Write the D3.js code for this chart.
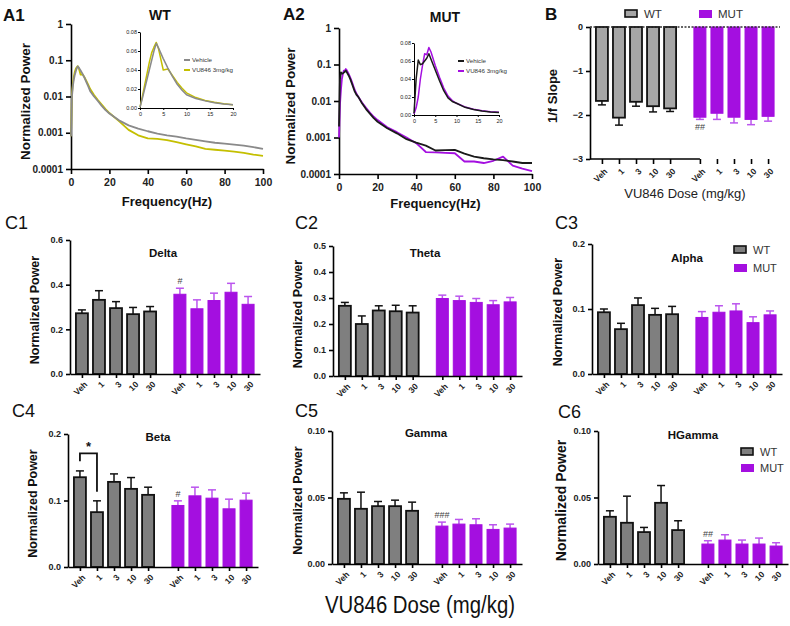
<!DOCTYPE html>
<html><head><meta charset="utf-8">
<script src="https://cdn.jsdelivr.net/npm/d3@7"></script>
<style>
body{margin:0;background:#fff}
svg{display:block}
text{font-family:"Liberation Sans",Arial,Helvetica,sans-serif}
</style>
</head><body>
<svg id="c" width="790" height="626"></svg>
<script>
// ---------------- DATA ----------------
const freqs = [0,0.5,1,1.5,2,2.5,3,3.5,4,5,6,7,8,9,10,12,14,16,18,20,25,30,35,40,45,50,55,60,65,70,75,80,85,90,95,100];
const wtVehicle = [0.0008,0.01,0.02,0.03,0.04,0.05,0.06,0.068,0.063,0.052,0.042,0.033,0.025,0.019,0.014,0.010,0.0075,0.0055,0.0042,0.0034,0.0022,0.0016,0.0013,0.0011,0.00095,0.00085,0.00078,0.0007,0.00064,0.00058,0.00053,0.0005,0.00047,0.00044,0.0004,0.00036];
const wtVU846 = [0.0008,0.012,0.024,0.036,0.048,0.058,0.064,0.069,0.062,0.040,0.041,0.034,0.027,0.021,0.016,0.011,0.008,0.006,0.0045,0.0035,0.0021,0.0012,0.00085,0.0007,0.00068,0.00063,0.00055,0.00048,0.00042,0.00036,0.00034,0.00032,0.0003,0.00028,0.00025,0.00023];
const mutVehicle = [0.002,0.04,0.061,0.056,0.057,0.06,0.063,0.068,0.062,0.05,0.038,0.027,0.019,0.015,0.013,0.0085,0.006,0.0045,0.0034,0.0027,0.0018,0.0013,0.0009,0.00072,0.0006,0.00044,0.00045,0.00046,0.00036,0.0003,0.00027,0.00025,0.00024,0.00022,0.0002,0.0002];
const mutVU846 = [0.001,0.008,0.02,0.04,0.055,0.068,0.067,0.075,0.07,0.055,0.042,0.03,0.021,0.016,0.013,0.009,0.0065,0.0048,0.0037,0.003,0.0019,0.0014,0.001,0.0007,0.0004,0.00039,0.00038,0.00037,0.00022,0.00022,0.0002,0.00023,0.0003,0.00017,0.00014,0.00012];
const logTicks = [1,0.1,0.01,0.001,0.0001];
const freqTicks = [0,20,40,60,80,100];
const insetFreqTicks = [0,5,10,15,20];
const insetPowTicks = [0,0.02,0.04,0.06,0.08];

const doses = ["Veh","1","3","10","30"];
const slopeWT = [-1.68,-2.06,-1.70,-1.80,-1.85];
const slopeWTErr = [0.09,0.17,0.10,0.13,0.07];
const slopeMUT = [-2.05,-1.96,-2.05,-2.10,-2.03];
const slopeMUTErr = [0.05,0.14,0.13,0.12,0.11];
const slopeTicks = [0,-1,-2,-3];

const deltaWT = [0.272,0.332,0.295,0.268,0.28];
const deltaWTErr = [0.015,0.041,0.029,0.030,0.022];
const deltaMUT = [0.357,0.292,0.329,0.366,0.312];
const deltaMUTErr = [0.027,0.04,0.033,0.04,0.035];
const thetaWT = [0.27,0.20,0.252,0.249,0.244];
const thetaWTErr = [0.013,0.031,0.018,0.023,0.026];
const thetaMUT = [0.298,0.29,0.283,0.274,0.285];
const thetaMUTErr = [0.013,0.017,0.015,0.016,0.017];
const alphaWT = [0.095,0.069,0.106,0.091,0.092];
const alphaWTErr = [0.005,0.009,0.011,0.010,0.012];
const alphaMUT = [0.087,0.095,0.097,0.079,0.091];
const alphaMUTErr = [0.009,0.010,0.011,0.009,0.006];
const betaWT = [0.135,0.0825,0.128,0.1175,0.1085];
const betaWTErr = [0.0095,0.017,0.012,0.017,0.0115];
const betaMUT = [0.0925,0.107,0.1035,0.0875,0.1005];
const betaMUTErr = [0.007,0.013,0.0125,0.0145,0.0105];
const gammaWT = [0.049,0.0415,0.0435,0.0435,0.040];
const gammaWTErr = [0.0045,0.0125,0.0035,0.0045,0.0065];
const gammaMUT = [0.0285,0.030,0.0295,0.026,0.027];
const gammaMUTErr = [0.003,0.0035,0.0045,0.0035,0.003];
const hgammaWT = [0.0355,0.031,0.024,0.046,0.0255];
const hgammaWTErr = [0.0045,0.02,0.0035,0.013,0.007];
const hgammaMUT = [0.015,0.018,0.015,0.015,0.0135];
const hgammaMUTErr = [0.0025,0.004,0.003,0.0045,0.0025];

// ---------------- STYLE ----------------
const GRAY_LINE = "#8a8a8a", YELLOW = "#c4bf00", PURPLE = "#a40fe0", PURPLE_ERR = "#bb55ee";
const svg = d3.select("#c");
svg.append("rect").attr("width",790).attr("height",626).attr("fill","#fff");

function styleAxis(g, fs, sw){
  g.selectAll(".domain").attr("stroke","#000").attr("stroke-width",sw);
  g.selectAll(".tick line").attr("stroke","#000").attr("stroke-width",sw);
  g.selectAll(".tick text").attr("fill","#222").attr("font-size",fs).attr("font-weight","bold")
    .attr("font-family",'"Liberation Sans",Arial,sans-serif');
}
function label(t,x,y,o){
  o=o||{};
  const e=svg.append("text").attr("x",x).attr("y",y).text(t)
    .attr("font-size",o.fs||12).attr("font-weight",o.fw||"bold")
    .attr("text-anchor",o.anchor||"middle").attr("fill",o.fill||"#111");
  if(o.rot) e.attr("transform",`rotate(${o.rot},${x},${y})`);
  if(o.family) e.attr("font-family",o.family);
  return e;
}

// ---------------- SPECTRA ----------------
function spectrum(p){
  const x = d3.scaleLinear([0,100],[p.x0,p.x1]);
  const y = d3.scaleLog([0.0001,1],[p.yb,p.yt]);
  const ga = svg.append("g").attr("transform",`translate(${p.x0},0)`)
    .call(d3.axisLeft(y).tickValues(logTicks).tickFormat(d=>String(d)).tickSize(5).tickSizeOuter(0));
  styleAxis(ga,10,1.6);
  const gb = svg.append("g").attr("transform",`translate(0,${p.yb})`)
    .call(d3.axisBottom(x).tickValues(freqTicks).tickSize(5).tickSizeOuter(0));
  styleAxis(gb,10.5,1.6);
  gb.selectAll(".tick text").attr("y",10);
  const line = d3.line().x((d,i)=>x(freqs[i])).y(d=>y(Math.max(d,0.0001)));
  p.series.forEach(s=>{
    svg.append("path").datum(s.v).attr("d",line).attr("fill","none")
      .attr("stroke",s.c).attr("stroke-width",1.8).attr("stroke-linejoin","round");
  });
  // inset
  const xi = d3.scaleLinear([0,20],[p.ix0,p.ix1]);
  const yi = d3.scaleLinear([0,0.08],[p.iyb,p.iyt]);
  const gi = svg.append("g").attr("transform",`translate(${p.ix0},0)`)
    .call(d3.axisLeft(yi).tickValues(insetPowTicks).tickFormat(d3.format(".2f")).tickSize(2).tickSizeOuter(0));
  styleAxis(gi,5.5,1);
  gi.selectAll(".tick text").attr("font-weight","normal").attr("x",-3);
  const gj = svg.append("g").attr("transform",`translate(0,${p.iyb})`)
    .call(d3.axisBottom(xi).tickValues(insetFreqTicks).tickSize(2).tickSizeOuter(0));
  styleAxis(gj,5.5,1);
  gj.selectAll(".tick text").attr("font-weight","normal").attr("y",4);
  const n = freqs.filter(f=>f<=20).length;
  const iline = d3.line().x((d,i)=>xi(freqs[i])).y(d=>yi(d));
  p.series.forEach(s=>{
    svg.append("path").datum(s.v.slice(0,n)).attr("d",iline).attr("fill","none")
      .attr("stroke",s.c).attr("stroke-width",1.5).attr("stroke-linejoin","round");
  });
  // inset legend
  p.series.slice().reverse().forEach((s,i)=>{
    const yy = p.ly + i*10;
    svg.append("line").attr("x1",p.lx).attr("x2",p.lx+6).attr("y1",yy).attr("y2",yy)
      .attr("stroke",s.c).attr("stroke-width",2);
    label(s.name,p.lx+8,yy+2,{fs:6.2,fw:"normal",anchor:"start",fill:"#333"});
  });
  label(p.title,p.tx,p.ty,{fs:14});
  label("Normalized Power",p.ylx,(p.yt+p.yb)/2+5,{fs:13.5,rot:-90});
  label("Frequency(Hz)",(p.x0+p.x1)/2,p.xly,{fs:13});
}
spectrum({x0:71,x1:263,yt:24,yb:169,ix0:140,ix1:233,iyt:32,iyb:108,lx:184,ly:60,
  title:"WT",tx:160,ty:20,ylx:30,xly:206,
  series:[{v:wtVU846,c:YELLOW,name:"VU846 3mg/kg"},{v:wtVehicle,c:GRAY_LINE,name:"Vehicle"}]});
spectrum({x0:339,x1:532,yt:28,yb:174,ix0:414,ix1:499,iyt:43,iyb:115,lx:458,ly:61,
  title:"MUT",tx:445,ty:22,ylx:295,xly:208,
  series:[{v:mutVU846,c:PURPLE,name:"VU846 3mg/kg"},{v:mutVehicle,c:"#1a1a1a",name:"Vehicle"}]});

// ---------------- BAR PANELS ----------------
function barPanel(p){
  const x = d3.scaleLinear([-0.7,10.45],[p.x0,p.x1]);
  const y = d3.scaleLinear(p.domain,[p.yb,p.yt]);
  const neg = p.domain[0] < 0;
  const base = y(0);
  const rows = doses.map((d,i)=>({pos:i,v:p.wt[i],e:p.wtErr[i],wt:true}))
    .concat(doses.map((d,i)=>({pos:i+5.75,v:p.mut[i],e:p.mutErr[i],wt:false})));
  const bw = 12, cap = 4;
  const g = svg.append("g");
  rows.forEach(r=>{
    const cx = x(r.pos);
    const ye = y(neg ? r.v - r.e : r.v + r.e);
    const ec = r.wt ? "#111" : PURPLE_ERR;
    g.append("line").attr("x1",cx).attr("x2",cx).attr("y1",y(r.v)).attr("y2",ye).attr("stroke",ec).attr("stroke-width",1.5);
    g.append("line").attr("x1",cx-cap).attr("x2",cx+cap).attr("y1",ye).attr("y2",ye).attr("stroke",ec).attr("stroke-width",1.5);
    const y0 = Math.min(base,y(r.v)), h = Math.abs(y(r.v)-base);
    g.append("rect").attr("x",cx-bw/2).attr("y",y0).attr("width",bw).attr("height",h)
      .attr("fill", r.wt ? p.wtFill : PURPLE)
      .attr("stroke", r.wt ? "#111" : PURPLE).attr("stroke-width", r.wt ? 1.8 : 1);
  });
  // axes
  const ga = svg.append("g").attr("transform",`translate(${p.x0},0)`)
    .call(d3.axisLeft(y).tickValues(p.ticks).tickFormat(p.fmt).tickSize(4).tickSizeOuter(0));
  styleAxis(ga,9,1.6);
  const axY = neg ? y(p.domain[0]) : base;
  const gx = svg.append("g").attr("transform",`translate(0,${axY})`)
    .call(d3.axisBottom(x).tickValues(rows.map(r=>r.pos)).tickFormat("").tickSize(neg?5:4).tickSizeOuter(0));
  styleAxis(gx,9,1.6);
  if(neg){
    gx.select(".domain").attr("d",`M${p.x0},0H${x(5.75)}`);
    svg.append("line").attr("x1",p.x0).attr("x2",p.x1).attr("y1",base).attr("y2",base)
      .attr("stroke","#333").attr("stroke-width",1.4).attr("stroke-dasharray","2,1.5");
  }
  rows.forEach((r,i)=>{
    const tx = x(r.pos)+3, ty = axY + (neg?10:8);
    label(doses[i%5],tx,ty,{fs:8.5,anchor:"end",rot:-45,fill:"#222"}).attr("dy","0.5em");
  });
  if(p.title) label(p.title,p.tx,p.ty,{fs:11.5});
  label(p.ylab||"Normalized Power",p.ylx,(p.yt+p.yb)/2+3,{fs:p.ylfs||12.5,rot:-90});
  if(p.hash){
    const r = rows[5];
    const yy = neg ? y(r.v - r.e) + 11 : y(r.v + r.e) - 4;
    label(p.hash,x(r.pos),yy,{fs:9,fw:"normal",fill:"#444"});
  }
  return {x,y};
}

// B
barPanel({x0:590,x1:780,yt:27,yb:159,domain:[-3,0],ticks:slopeTicks,fmt:d3.format("d"),
  wt:slopeWT,wtErr:slopeWTErr,mut:slopeMUT,mutErr:slopeMUTErr,wtFill:"#a6a6a6",
  ylab:"1/f Slope",ylx:557,ylfs:13,hash:"##"});
// C1..C6
barPanel({x0:70,x1:260,yt:240,yb:374,domain:[0,0.6],ticks:[0,0.2,0.4,0.6],fmt:d3.format(".1f"),
  wt:deltaWT,wtErr:deltaWTErr,mut:deltaMUT,mutErr:deltaMUTErr,wtFill:"#7f7f7f",
  title:"Delta",tx:163,ty:257,ylx:39,hash:"#"});
barPanel({x0:333,x1:522,yt:246,yb:376,domain:[0,0.5],ticks:[0,0.1,0.2,0.3,0.4,0.5],fmt:d3.format(".1f"),
  wt:thetaWT,wtErr:thetaWTErr,mut:thetaMUT,mutErr:thetaMUTErr,wtFill:"#7f7f7f",
  title:"Theta",tx:425,ty:257,ylx:302});
barPanel({x0:592,x1:782,yt:244,yb:374,domain:[0,0.2],ticks:[0,0.1,0.2],fmt:d3.format(".1f"),
  wt:alphaWT,wtErr:alphaWTErr,mut:alphaMUT,mutErr:alphaMUTErr,wtFill:"#7f7f7f",
  title:"Alpha",tx:687,ty:262,ylx:562});
const c4 = barPanel({x0:68,x1:258,yt:434,yb:567,domain:[0,0.2],ticks:[0,0.1,0.2],fmt:d3.format(".1f"),
  wt:betaWT,wtErr:betaWTErr,mut:betaMUT,mutErr:betaMUTErr,wtFill:"#7f7f7f",
  title:"Beta",tx:158,ty:441,ylx:37,hash:"#"});
barPanel({x0:332,x1:522,yt:431,yb:564,domain:[0,0.10],ticks:[0,0.05,0.10],fmt:d3.format(".2f"),
  wt:gammaWT,wtErr:gammaWTErr,mut:gammaMUT,mutErr:gammaMUTErr,wtFill:"#7f7f7f",
  title:"Gamma",tx:426,ty:437,ylx:302,hash:"###"});
barPanel({x0:598,x1:788,yt:431,yb:564,domain:[0,0.10],ticks:[0,0.05,0.10],fmt:d3.format(".2f"),
  wt:hgammaWT,wtErr:hgammaWTErr,mut:hgammaMUT,mutErr:hgammaMUTErr,wtFill:"#7f7f7f",
  title:"HGamma",tx:693,ty:439,ylx:566,ylfs:14,hash:"##"});

// significance bracket in C4 (values in data space)
const bracket = {top:0.171, left:0.159, right:0.113};
svg.append("path").attr("d",`M${c4.x(0)},${c4.y(bracket.left)}V${c4.y(bracket.top)}H${c4.x(1)}V${c4.y(bracket.right)}`)
  .attr("fill","none").attr("stroke","#111").attr("stroke-width",1.8);
label("*",(c4.x(0)+c4.x(1))/2,c4.y(bracket.top)-2,{fs:13});

// legends
function legend(x,y,gap,fs,wtFill){
  svg.append("rect").attr("x",x).attr("y",y-4).attr("width",12).attr("height",7)
    .attr("fill",wtFill).attr("stroke","#111").attr("stroke-width",1.6);
  label("WT",x+19,y+4,{fs:fs,fw:"normal",anchor:"start",fill:"#333"});
  const mx = gap[0], my = gap[1];
  svg.append("rect").attr("x",x+mx).attr("y",y+my-4).attr("width",13).attr("height",8).attr("fill",PURPLE);
  label("MUT",x+mx+19,y+my+4,{fs:fs,fw:"normal",anchor:"start",fill:"#333"});
}
legend(625,14,[74,0],11.5,"#a6a6a6");
legend(734,250,[0,18],11,"#7f7f7f");
legend(741,452,[0,16],11,"#7f7f7f");

// titles for B x axis and global
label("VU846 Dose (mg/kg)",685,198,{fs:13,fw:"normal",fill:"#222"});
label("VU846 Dose (mg/kg)",420,613,{fs:23,fw:"normal",fill:"#111",family:'"Liberation Sans Narrow","Arial Narrow",Arial,sans-serif'})
  .attr("textLength",190).attr("lengthAdjust","spacingAndGlyphs");

// panel letters
[["A1",3,21,"bold",17],["A2",283,20,"bold",17],["B",545,20,"bold",17],
 ["C1",5,229,"normal",18],["C2",295,229,"normal",18],["C3",555,229,"normal",18],
 ["C4",12,417,"normal",18],["C5",295,417,"normal",18],["C6",558,418,"normal",18]]
 .forEach(d=>label(d[0],d[1],d[2],{fs:d[4],fw:d[3],anchor:"start",fill:"#111"}));
</script>
</body></html>
